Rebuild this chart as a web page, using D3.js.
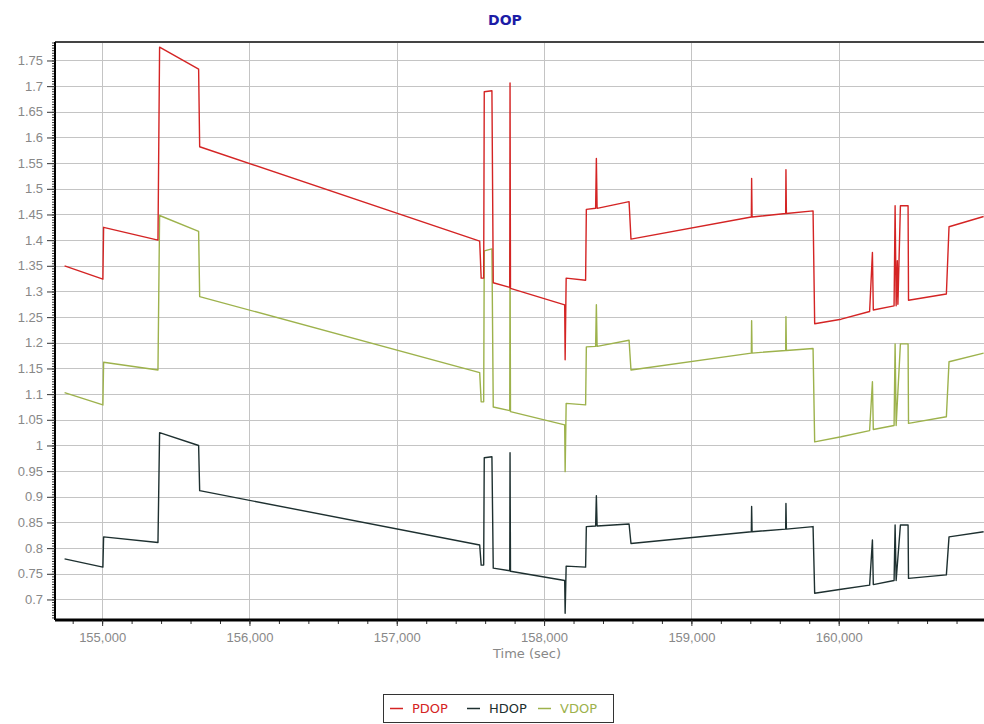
<!DOCTYPE html>
<html>
<head>
<meta charset="utf-8">
<style>
    body { margin: 0; background: #fff; font-family: "DejaVu Sans", Verdana, sans-serif; }
    .grid line { stroke: #c4c4c4; stroke-width: 1; }
    .axis text { fill: #888; font-size: 13px; }
    .series { fill: none; stroke-width: 1.4; stroke-linejoin: round; }
</style>
<script src="https://d3js.org/d3.v7.min.js"></script>
</head>
<body>
<div id="chart"></div>
<script>
// series: [time (sec), value]
var pdop = [
    [154745, 1.350], [155005, 1.324], [155010, 1.425], [155379, 1.400], [155390, 1.776],
    [155655, 1.733], [155662, 1.582], [157563, 1.398], [157573, 1.326], [157590, 1.326],
    [157594, 1.689], [157646, 1.691], [157655, 1.317], [157767, 1.308], [157769, 1.706],
    [157772, 1.306], [158140, 1.274], [158143, 1.167], [158150, 1.326], [158282, 1.322],
    [158287, 1.460], [158350, 1.462], [158355, 1.559], [158360, 1.462], [158577, 1.475],
    [158590, 1.402], [159407, 1.445], [159409, 1.520], [159412, 1.445], [159640, 1.452],
    [159642, 1.537], [159645, 1.452], [159826, 1.457], [159837, 1.237], [160017, 1.246],
    [160210, 1.261], [160229, 1.376], [160235, 1.264], [160376, 1.272], [160383, 1.467],
    [160390, 1.272], [160398, 1.360], [160402, 1.275], [160419, 1.467], [160471, 1.467],
    [160474, 1.283], [160731, 1.295], [160749, 1.426], [160984, 1.446]
];
var hdop = [
    [154745, 0.779], [155005, 0.763], [155010, 0.822], [155379, 0.811], [155390, 1.025],
    [155655, 1.000], [155662, 0.912], [157563, 0.806], [157573, 0.767], [157590, 0.767],
    [157594, 0.976], [157646, 0.978], [157655, 0.761], [157767, 0.756], [157769, 0.986],
    [157772, 0.755], [158140, 0.737], [158143, 0.673], [158150, 0.765], [158282, 0.763],
    [158287, 0.842], [158350, 0.843], [158355, 0.902], [158360, 0.843], [158577, 0.847],
    [158590, 0.809], [159407, 0.832], [159409, 0.881], [159412, 0.832], [159640, 0.837],
    [159642, 0.887], [159645, 0.837], [159826, 0.842], [159837, 0.712], [160017, 0.720],
    [160210, 0.728], [160229, 0.816], [160235, 0.729], [160376, 0.737], [160383, 0.845],
    [160390, 0.737], [160419, 0.845], [160471, 0.845], [160474, 0.741], [160731, 0.748],
    [160749, 0.822], [160984, 0.832]
];
var vdop = [
    [154745, 1.103], [155005, 1.079], [155010, 1.162], [155379, 1.147], [155390, 1.448],
    [155655, 1.417], [155662, 1.290], [157563, 1.142], [157573, 1.085], [157590, 1.085],
    [157594, 1.379], [157646, 1.383], [157655, 1.075], [157767, 1.068], [157769, 1.394],
    [157772, 1.066], [158140, 1.040], [158143, 0.949], [158150, 1.082], [158282, 1.079],
    [158287, 1.192], [158350, 1.193], [158355, 1.274], [158360, 1.193], [158577, 1.205],
    [158590, 1.147], [159407, 1.180], [159409, 1.243], [159412, 1.180], [159640, 1.185],
    [159642, 1.251], [159645, 1.185], [159826, 1.189], [159837, 1.007], [160017, 1.017],
    [160210, 1.029], [160229, 1.124], [160235, 1.031], [160376, 1.039], [160383, 1.198],
    [160390, 1.039], [160419, 1.198], [160471, 1.198], [160474, 1.043], [160731, 1.056],
    [160749, 1.163], [160984, 1.180]
];

var seriesNames = ["PDOP", "HDOP", "VDOP"];
var seriesColors = ["#d42424", "#1e3030", "#9db24c"];

var xTicks = [155000, 156000, 157000, 158000, 159000, 160000];
var yTicks = [0.7, 0.75, 0.8, 0.85, 0.9, 0.95, 1, 1.05, 1.1, 1.15, 1.2, 1.25, 1.3, 1.35, 1.4, 1.45, 1.5, 1.55, 1.6, 1.65, 1.7, 1.75];

var W = 984, H = 724;
var plotLeft = 55, plotRight = 986, plotTop = 42, plotBottom = 620;

var svg = d3.select("#chart").append("svg")
    .attr("width", W)
    .attr("height", H);

var x = d3.scaleLinear().domain([154680, 161000]).range([plotLeft, plotRight]);
var y = d3.scaleLinear().domain([0.66, 1.786]).range([plotBottom, plotTop]);

// title
svg.append("text")
    .attr("x", 505)
    .attr("y", 25)
    .attr("text-anchor", "middle")
    .attr("font-size", "14px")
    .attr("font-weight", "bold")
    .attr("fill", "#1c1ca6")
    .text("DOP");

// grid
var grid = svg.append("g").attr("class", "grid");
grid.selectAll(".h").data(yTicks).enter().append("line")
    .attr("x1", plotLeft).attr("x2", plotRight)
    .attr("y1", d => Math.round(y(d)) + 0.5)
    .attr("y2", d => Math.round(y(d)) + 0.5);
grid.selectAll(".v").data(xTicks).enter().append("line")
    .attr("y1", plotTop).attr("y2", plotBottom)
    .attr("x1", d => Math.round(x(d)) + 0.5)
    .attr("x2", d => Math.round(x(d)) + 0.5);

// top frame
svg.append("line")
    .attr("x1", plotLeft).attr("x2", plotRight)
    .attr("y1", plotTop).attr("y2", plotTop)
    .attr("stroke", "#444").attr("stroke-width", 2);

// lines
svg.append("clipPath").attr("id", "clip")
    .append("rect").attr("x", plotLeft).attr("y", plotTop)
    .attr("width", plotRight - plotLeft).attr("height", plotBottom - plotTop);

var line = d3.line().x(d => x(d[0])).y(d => y(d[1]));
var plot = svg.append("g").attr("clip-path", "url(#clip)");
[[vdop, 2], [hdop, 1], [pdop, 0]].forEach(function(s) {
    plot.append("path")
        .datum(s[0])
        .attr("class", "series")
        .attr("stroke", seriesColors[s[1]])
        .attr("d", line);
});

// minor ticks
var yMinor = d3.range(0.665, 1.786, 0.005);
svg.append("g")
    .attr("transform", "translate(" + plotLeft + ",0)")
    .call(d3.axisLeft(y).tickValues(yMinor).tickSize(3).tickFormat(""))
    .call(g => g.select(".domain").remove())
    .selectAll("line").attr("stroke", "#333");

var xMinor = d3.range(154800, 161000, 200);
svg.append("g")
    .attr("transform", "translate(0," + plotBottom + ")")
    .call(d3.axisBottom(x).tickValues(xMinor).tickSize(4).tickFormat(""))
    .call(g => g.select(".domain").remove())
    .selectAll("line").attr("stroke", "#333");

// y axis
var yAxis = svg.append("g")
    .attr("class", "axis")
    .attr("transform", "translate(" + plotLeft + ",0)")
    .call(d3.axisLeft(y).tickValues(yTicks).tickSize(8).tickPadding(4).tickFormat(d3.format(".2~f")));
yAxis.select(".domain").attr("stroke", "#000").attr("stroke-width", 2)
    .attr("d", "M0," + plotTop + "V" + plotBottom);
yAxis.selectAll("line").attr("stroke", "#333");

// x axis
var xAxis = svg.append("g")
    .attr("class", "axis")
    .attr("transform", "translate(0," + plotBottom + ")")
    .call(d3.axisBottom(x).tickValues(xTicks).tickSize(6).tickPadding(7).tickFormat(d3.format(",")));
xAxis.select(".domain").attr("stroke", "#000").attr("stroke-width", 3)
    .attr("d", "M" + plotLeft + ",0H" + plotRight);
xAxis.selectAll("line").attr("stroke", "#333");

svg.append("text")
    .attr("x", 527)
    .attr("y", 658)
    .attr("text-anchor", "middle")
    .attr("font-size", "13px")
    .attr("fill", "#888")
    .text("Time (sec)");

// legend
var legend = svg.append("g").attr("transform", "translate(383,694)");
legend.append("rect")
    .attr("x", 0.5).attr("y", 0.5)
    .attr("width", 230).attr("height", 28)
    .attr("fill", "#fff")
    .attr("stroke", "#333")
    .attr("stroke-width", 1);
var legendX = [7, 84, 155];
seriesNames.forEach(function(name, i) {
    var g = legend.append("g").attr("transform", "translate(" + legendX[i] + ",0)");
    g.append("line")
        .attr("x1", 0).attr("x2", 13)
        .attr("y1", 14.5).attr("y2", 14.5)
        .attr("stroke", seriesColors[i]).attr("stroke-width", 1.5);
    g.append("text")
        .attr("x", 22).attr("y", 19)
        .attr("font-size", "13px")
        .attr("fill", seriesColors[i])
        .text(name);
});
</script>
</body>
</html>
